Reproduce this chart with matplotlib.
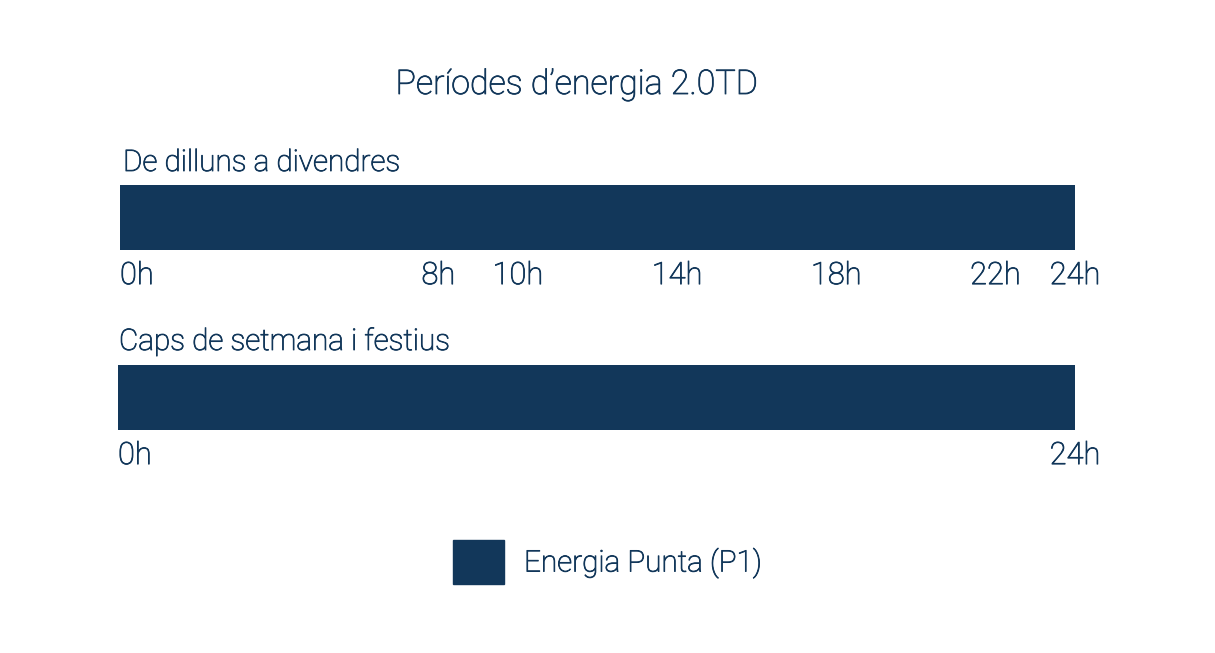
import matplotlib
matplotlib.use('Agg')
import matplotlib.pyplot as plt
import matplotlib.patheffects as pe
from matplotlib.patches import Patch

# data
rows = ['De dilluns a divendres', 'Caps de setmana i festius']
row_periods = [[(0, 24, 'P1')], [(0, 24, 'P1')]]
row_ticks = [[0, 8, 10, 14, 18, 22, 24], [0, 24]]
period_names = {'P1': 'Energia Punta (P1)'}
title = 'Períodes d\u2019energia 2.0TD'

navy = '#12375A'
period_colors = {'P1': navy}

plt.rcParams['font.family'] = ['Roboto', 'DejaVu Sans']
weight = 'light'
fs = 21.4
fs_tick = 22.2
fs_title = 24.5
# thin outline so the light font reads a little heavier, like the original
thicken = [pe.withStroke(linewidth=0.6, foreground=navy)]

W, H = 1215, 653
fig = plt.figure(figsize=(W / 100, H / 100), dpi=100)

def fx(px):
    return px / W

def fy(py):
    return 1 - py / H

axes_boxes = [(120, 185, 1075, 250), (118, 365, 1075, 430)]
label_pos = [(123, 171), (119, 350)]

for i, name in enumerate(rows):
    x0, y0, x1, y1 = axes_boxes[i]
    ax = fig.add_axes([fx(x0), fy(y1), fx(x1 - x0), (y1 - y0) / H])
    for start, end, p in row_periods[i]:
        ax.barh(0, end - start, left=start, height=1, color=period_colors[p])
    ax.set_xlim(0, 24)
    ax.set_ylim(-0.5, 0.5)
    ax.set_yticks([])
    ax.set_xticks(row_ticks[i])
    ax.set_xticklabels([f'{t}h' for t in row_ticks[i]], fontsize=fs_tick,
                       color=navy, fontweight=weight)
    ax.tick_params(axis='x', length=0, pad=8)
    for lab in ax.get_xticklabels():
        lab.set_path_effects(thicken)
    ax.get_xticklabels()[0].set_ha('left')
    for s in ax.spines.values():
        s.set_visible(False)
    lx, ly = label_pos[i]
    fig.text(fx(lx), fy(ly), name, fontsize=fs, color=navy,
             fontweight=weight, va='baseline', path_effects=thicken)

fig.text(fx(577), fy(94), title, fontsize=fs_title, color=navy,
         fontweight=weight, ha='center', va='baseline', path_effects=thicken)

handles = [Patch(color=period_colors[p], label=period_names[p]) for p in period_names]
fpx = fs * 100 / 72
leg = fig.legend(handles=handles, loc='center left',
                 bbox_to_anchor=(fx(453), fy(562)), frameon=False,
                 fontsize=fs, handlelength=51 / fpx, handleheight=47 / fpx + 0.3,
                 handletextpad=20 / fpx, borderpad=0, borderaxespad=0)
for t in leg.get_texts():
    t.set_color(navy)
    t.set_fontweight(weight)
    t.set_path_effects(thicken)

fig.savefig('out.png', dpi=100)
